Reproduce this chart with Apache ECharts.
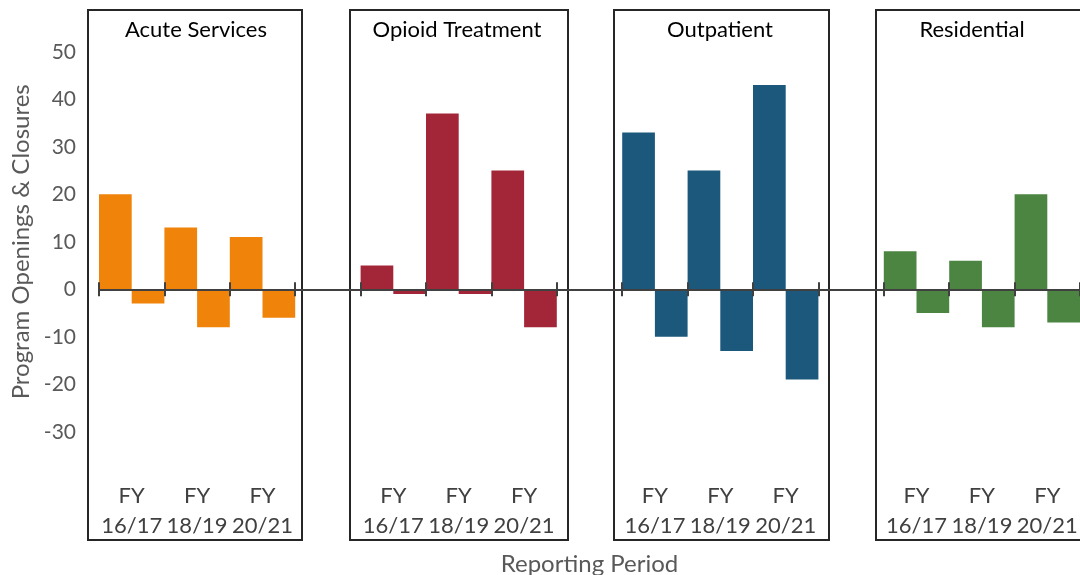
<!DOCTYPE html>
<html>
<head>
<meta charset="utf-8">
<script src="https://cdn.jsdelivr.net/npm/echarts@6/dist/echarts.min.js"></script>
<style>
  html, body { margin: 0; padding: 0; background: #fff; }
  #chart { width: 1080px; height: 575px; }
</style>
</head>
<body>
<div id="chart"></div>
<script>
// panels and periods
const panels = ['Acute Services', 'Opioid Treatment', 'Outpatient', 'Residential']
const periods = ['FY\n16/17', 'FY\n18/19', 'FY\n20/21']
const panelColors = ['#F0830A', '#A32638', '#1B587C', '#4B8541']

// openings (positive) and closures (negative) per panel
const acuteOpenings = [20, 13, 11]
const acuteClosures = [-3, -8, -6]
const opioidOpenings = [5, 37, 25]
const opioidClosures = [-1, -1, -8]
const outpatientOpenings = [33, 25, 43]
const outpatientClosures = [-10, -13, -19]
const residentialOpenings = [8, 6, 20]
const residentialClosures = [-5, -8, -7]

const openingsByPanel = [acuteOpenings, opioidOpenings, outpatientOpenings, residentialOpenings]
const closuresByPanel = [acuteClosures, opioidClosures, outpatientClosures, residentialClosures]

// build 15 category slots: 3 periods per panel + 1 empty gap between panels
const categories = []
const openingsData = []
const closuresData = []
panels.forEach((p, i) => {
  periods.forEach((per, j) => {
    categories.push(per)
    openingsData.push({ value: openingsByPanel[i][j], itemStyle: { color: panelColors[i] } })
    closuresData.push({ value: closuresByPanel[i][j], itemStyle: { color: panelColors[i] } })
  })
  if (i < panels.length - 1) {
    categories.push('')
    openingsData.push('-')
    closuresData.push('-')
  }
})

const FONT = 'Lato'
const lineCol = '#404040'

// panel frames and titles (decoration)
const boxes = [
  { x: 88, w: 214 },
  { x: 350, w: 218 },
  { x: 614, w: 215 },
  { x: 876, w: 220 }
]
const titleX = [196, 457, 720, 972]

const graphics = []
boxes.forEach((b, i) => {
  graphics.push({
    type: 'rect',
    shape: { x: b.x, y: 10, width: b.w, height: 530 },
    style: { fill: 'none', stroke: '#262626', lineWidth: 2 },
    z: 1
  })
  graphics.push({
    type: 'text',
    style: {
      text: panels[i], x: titleX[i], y: 30,
      textAlign: 'center', textVerticalAlign: 'middle',
      font: '22px ' + FONT, fill: '#000'
    },
    z: 10
  })
})

const chart = echarts.init(document.getElementById('chart'))
const axisLineStyle = { color: lineCol, width: 2 }

chart.setOption({
  animation: false,
  textStyle: { fontFamily: FONT },
  graphic: graphics,
  grid: { left: 99, right: 0, top: 4.3, height: 475, outerBoundsMode: 'none' },
  xAxis: [
    {
      type: 'category', data: categories, position: 'bottom',
      axisLine: { onZero: true, lineStyle: axisLineStyle },
      axisTick: { show: true, length: 7, lineStyle: axisLineStyle },
      axisLabel: { show: false },
      z: 5
    },
    {
      type: 'category', data: categories, position: 'top',
      axisLine: { onZero: true, lineStyle: axisLineStyle },
      axisTick: { show: true, length: 7, lineStyle: axisLineStyle },
      axisLabel: { show: false },
      z: 5
    },
    {
      type: 'category', data: categories, position: 'bottom',
      axisLine: { show: false, onZero: false },
      axisTick: { show: false },
      axisLabel: { color: '#404040', fontSize: 22, lineHeight: 30, margin: 2, interval: 0 },
      name: 'Reporting Period', nameLocation: 'middle', nameGap: 73,
      nameTextStyle: { color: '#595959', fontSize: 24 }
    }
  ],
  yAxis: [
    {
      type: 'value', min: -40, max: 60, interval: 10,
      axisLine: { show: false }, axisTick: { show: false }, splitLine: { show: false },
      axisLabel: {
        color: '#595959', fontSize: 21, margin: 23,
        formatter: v => (v < -30 || v > 50) ? '' : String(v)
      },
      name: 'Program Openings & Closures', nameLocation: 'middle', nameGap: 63,
      nameTextStyle: { color: '#595959', fontSize: 24 }
    },
    {
      type: 'value', min: -40, max: 60, interval: 10, show: false
    }
  ],
  series: [
    {
      name: 'Openings', type: 'bar', data: openingsData,
      xAxisIndex: 0, yAxisIndex: 0,
      barGap: '0%', barCategoryGap: '0%', z: 3
    },
    {
      name: 'Closures', type: 'bar', data: closuresData,
      xAxisIndex: 0, yAxisIndex: 0,
      barGap: '0%', barCategoryGap: '0%', z: 3
    }
  ]
})
</script>
</body>
</html>
